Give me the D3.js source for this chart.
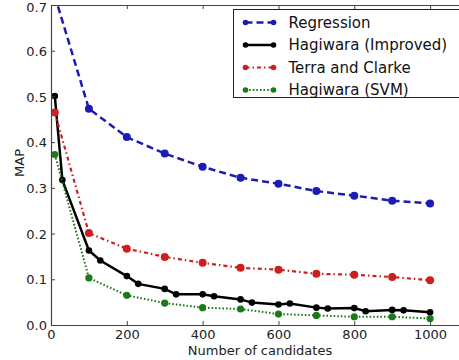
<!DOCTYPE html>
<html>
<head>
<meta charset="utf-8">
<script src="https://cdn.jsdelivr.net/npm/d3@7"></script>
<style>
    body { margin: 0; background: #fff; }
    svg { display: block; font-family: "DejaVu Sans", sans-serif; }
</style>
</head>
<body>
<svg id="chart" width="459" height="360"></svg>
<script>
var width = 459;
var height = 360;

// candidates on the x axis
var stepX = [10, 100, 200, 300, 400, 500, 600, 700, 800, 900, 1000];
var improvedX = [10, 30, 100, 130, 200, 230, 300, 330, 400, 430, 500, 530, 600, 630, 700, 730, 800, 830, 900, 930, 1000];

var regression = [0.72, 0.473, 0.411, 0.375, 0.346, 0.322, 0.309, 0.293, 0.283, 0.272, 0.266];
var improved = [0.501, 0.317, 0.163, 0.141, 0.107, 0.090, 0.079, 0.067, 0.067, 0.063, 0.056, 0.049, 0.045, 0.047, 0.038, 0.036, 0.037, 0.030, 0.033, 0.032, 0.028];
var terraClarke = [0.465, 0.201, 0.167, 0.149, 0.136, 0.125, 0.121, 0.112, 0.110, 0.105, 0.098];
var svm = [0.373, 0.103, 0.065, 0.048, 0.038, 0.035, 0.024, 0.021, 0.018, 0.018, 0.014];

var xTicks = [0, 200, 400, 600, 800, 1000];
var yTicks = [0.0, 0.1, 0.2, 0.3, 0.4, 0.5, 0.6, 0.7];

var seriesNames = ['Regression', 'Hagiwara (Improved)', 'Terra and Clarke', 'Hagiwara (SVM)'];

var series = [
    {name: seriesNames[0], xs: stepX, ys: regression, color: '#1c1cb4', dash: '7,4', width: 2.5, r: 4},
    {name: seriesNames[1], xs: improvedX, ys: improved, color: '#000000', dash: null, width: 2.5, r: 3.3},
    {name: seriesNames[2], xs: stepX, ys: terraClarke, color: '#cc2020', dash: '4,3,1.5,3', width: 2.2, r: 4},
    {name: seriesNames[3], xs: stepX, ys: svm, color: '#1a7a1a', dash: '1.6,2', width: 2, r: 3.6}
];

var plot = {left: 51, top: 5, bottom: 325, right: 468};

var x = d3.scaleLinear().domain([0, 1100]).range([plot.left, plot.right]);
var y = d3.scaleLinear().domain([0, 0.7]).range([plot.bottom, plot.top]);

var svg = d3.select('#chart');

svg.append('defs').append('clipPath')
    .attr('id', 'clip')
    .append('rect')
    .attr('x', plot.left)
    .attr('y', plot.top)
    .attr('width', plot.right - plot.left)
    .attr('height', plot.bottom - plot.top);

var view = svg.append('g').attr('clip-path', 'url(#clip)');

var line = d3.line()
    .x(function(d) { return x(d[0]); })
    .y(function(d) { return y(d[1]); });

series.forEach(function(s) {
    var pts = s.xs.map(function(v, i) { return [v, s.ys[i]]; });
    view.append('path')
        .datum(pts)
        .attr('d', line)
        .attr('fill', 'none')
        .attr('stroke', s.color)
        .attr('stroke-width', s.width)
        .attr('stroke-dasharray', s.dash);
    view.selectAll(null)
        .data(pts)
        .enter()
        .append('circle')
        .attr('cx', function(d) { return x(d[0]); })
        .attr('cy', function(d) { return y(d[1]); })
        .attr('r', s.r)
        .attr('fill', s.color);
});

// axes, ticks point inwards like matplotlib
var axisColor = '#444';
var bottomAxis = svg.append('g')
    .attr('transform', 'translate(0,' + plot.bottom + ')')
    .call(d3.axisBottom(x).tickValues(xTicks).tickSizeInner(-4).tickSizeOuter(0).tickPadding(5).tickFormat(d3.format('d')));
var topAxis = svg.append('g')
    .attr('transform', 'translate(0,' + plot.top + ')')
    .call(d3.axisTop(x).tickValues(xTicks).tickSizeInner(-4).tickSizeOuter(0).tickFormat(''));
var leftAxis = svg.append('g')
    .attr('transform', 'translate(' + plot.left + ',0)')
    .call(d3.axisLeft(y).tickValues(yTicks).tickSizeInner(-4).tickSizeOuter(0).tickPadding(4).tickFormat(d3.format('.1f')));

[bottomAxis, topAxis, leftAxis].forEach(function(a) {
    a.select('.domain').attr('stroke', axisColor).attr('stroke-width', 1.2);
    a.selectAll('.tick line').attr('stroke', axisColor);
    a.selectAll('.tick text')
        .attr('fill', '#222')
        .style('font-family', '"DejaVu Sans", sans-serif')
        .style('font-size', '13px');
});
leftAxis.selectAll('.tick text').attr('dy', '0.36em');
// the top label sits a bit low in the reference, just inside the edge
leftAxis.selectAll('.tick text').filter(function(d) { return d === 0.7; }).attr('dy', '0.5em');

svg.append('text')
    .attr('x', 260)
    .attr('y', 355)
    .attr('text-anchor', 'middle')
    .attr('fill', '#222')
    .style('font-size', '13px')
    .text('Number of candidates');

svg.append('text')
    .attr('transform', 'translate(24,' + 163 + ') rotate(-90)')
    .attr('text-anchor', 'middle')
    .attr('fill', '#222')
    .style('font-size', '13px')
    .text('MAP');

// legend
var legend = svg.append('g').attr('transform', 'translate(233.5,9.5)');
legend.append('rect')
    .attr('width', 260)
    .attr('height', 88)
    .attr('fill', '#fff')
    .attr('stroke', '#222')
    .attr('stroke-width', 1);

series.forEach(function(s, i) {
    var row = legend.append('g').attr('transform', 'translate(0,' + (13 + i * 22.5) + ')');
    row.append('line')
        .attr('x1', 12).attr('x2', 40)
        .attr('stroke', s.color)
        .attr('stroke-width', s.width)
        .attr('stroke-dasharray', s.dash);
    row.selectAll(null)
        .data([12, 40])
        .enter()
        .append('circle')
        .attr('cx', function(d) { return d; })
        .attr('r', 2.8)
        .attr('fill', s.color);
    row.append('text')
        .attr('x', 55)
        .attr('dy', '0.36em')
        .attr('fill', '#111')
        .style('font-size', '15px')
        .text(s.name);
});
</script>
</body>
</html>
